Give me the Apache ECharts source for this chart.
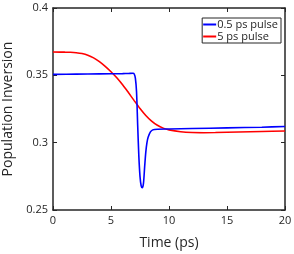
<!DOCTYPE html>
<html><head><meta charset="utf-8">
<script src="https://cdn.jsdelivr.net/npm/echarts@6/dist/echarts.min.js"></script>
<style>html,body{margin:0;padding:0;background:#fff}#c{width:294px;height:254px}</style>
</head><body><div id="c"></div>
<script>
var seriesNames = ['0.5 ps pulse', '5 ps pulse'];
var xTicks = [0, 5, 10, 15, 20];
var yTicks = [0.25, 0.3, 0.35, 0.4];
var blueT = [0, 2, 4, 6, 6.5, 6.9, 7.0, 7.1, 7.2, 7.3, 7.4, 7.5, 7.6, 7.7, 7.8, 7.9, 8.0, 8.1, 8.2, 8.4, 8.6, 9, 10, 12, 15, 18, 20];
var blueV = [0.3507, 0.3509, 0.3511, 0.3513, 0.3514, 0.3515, 0.3510, 0.348, 0.338, 0.313, 0.290, 0.275, 0.268, 0.2666, 0.270, 0.282, 0.293, 0.300, 0.304, 0.308, 0.3095, 0.3100, 0.3102, 0.3105, 0.3110, 0.3115, 0.3120];
var redT = [0, 1, 1.5, 2, 2.5, 3, 3.5, 4, 4.5, 5, 5.5, 6, 6.5, 7, 7.5, 8, 8.5, 9, 9.5, 10, 11, 12, 13, 14, 16, 18, 20];
var redV = [0.3673, 0.3672, 0.3671, 0.3668, 0.3662, 0.3650, 0.3630, 0.3602, 0.3567, 0.3527, 0.3482, 0.3430, 0.3372, 0.3312, 0.3254, 0.3202, 0.3160, 0.3129, 0.3108, 0.3095, 0.3081, 0.3075, 0.3074, 0.3075, 0.3079, 0.3083, 0.3087];

function pairs(t, v) { return t.map(function (x, i) { return [x, v[i]]; }); }
var ink = '#262626';
var font = '"Open Sans", "Noto Sans", sans-serif';
var chart = echarts.init(document.getElementById('c'), null, { renderer: 'canvas' });
function axisBase(extra) {
  var a = {
    type: 'value',
    axisLine: { show: true, onZero: false, lineStyle: { color: ink, width: 1.5 } },
    axisTick: { show: true, inside: true, length: 4, lineStyle: { color: ink, width: 1 } },
    splitLine: { show: false },
    axisLabel: { color: ink, fontFamily: font, fontSize: 11 }
  };
  for (var k in extra) a[k] = extra[k];
  return a;
}
chart.setOption({
  animation: false,
  backgroundColor: '#fff',
  grid: { left: 53, right: 9, top: 8, bottom: 44, containLabel: false, outerBoundsMode: 'none' },
  legend: {
    data: seriesNames,
    orient: 'vertical',
    right: 13, top: 18,
    itemWidth: 13, itemHeight: 2, itemGap: 1,
    icon: 'rect',
    borderColor: ink, borderWidth: 1, borderRadius: 0,
    padding: [1, 3, 1, 1],
    backgroundColor: '#fff',
    textStyle: { color: ink, fontFamily: font, fontSize: 11, padding: [0, 0, 0, -4] }
  },
  xAxis: [
    axisBase({ min: 0, max: 20, interval: 5, position: 'bottom', name: 'Time (ps)', nameLocation: 'middle', nameGap: 26,
      nameTextStyle: { color: ink, fontFamily: font, fontSize: 14 },
      axisLabel: { color: ink, fontFamily: font, fontSize: 11, margin: 5 } }),
    axisBase({ min: 0, max: 20, interval: 5, position: 'top', axisLabel: { show: false } })
  ],
  yAxis: [
    axisBase({ min: 0.25, max: 0.4, interval: 0.05, position: 'left', name: 'Population Inversion', nameLocation: 'middle', nameGap: 38,
      nameTextStyle: { color: ink, fontFamily: font, fontSize: 14 },
      axisLabel: { color: ink, fontFamily: font, fontSize: 11, margin: 5, formatter: function (v) { return String(+v.toFixed(2)); } } }),
    axisBase({ min: 0.25, max: 0.4, interval: 0.05, position: 'right', axisLabel: { show: false } })
  ],
  series: [
    { name: seriesNames[0], type: 'line', data: pairs(blueT, blueV), smooth: 0.3, showSymbol: false, symbol: 'none',
      lineStyle: { color: '#0000ff', width: 1.6 }, itemStyle: { color: '#0000ff' }, z: 3 },
    { name: seriesNames[1], type: 'line', data: pairs(redT, redV), smooth: 0.3, showSymbol: false, symbol: 'none',
      lineStyle: { color: '#ff0000', width: 1.6 }, itemStyle: { color: '#ff0000' }, z: 2 }
  ]
});
</script></body></html>
